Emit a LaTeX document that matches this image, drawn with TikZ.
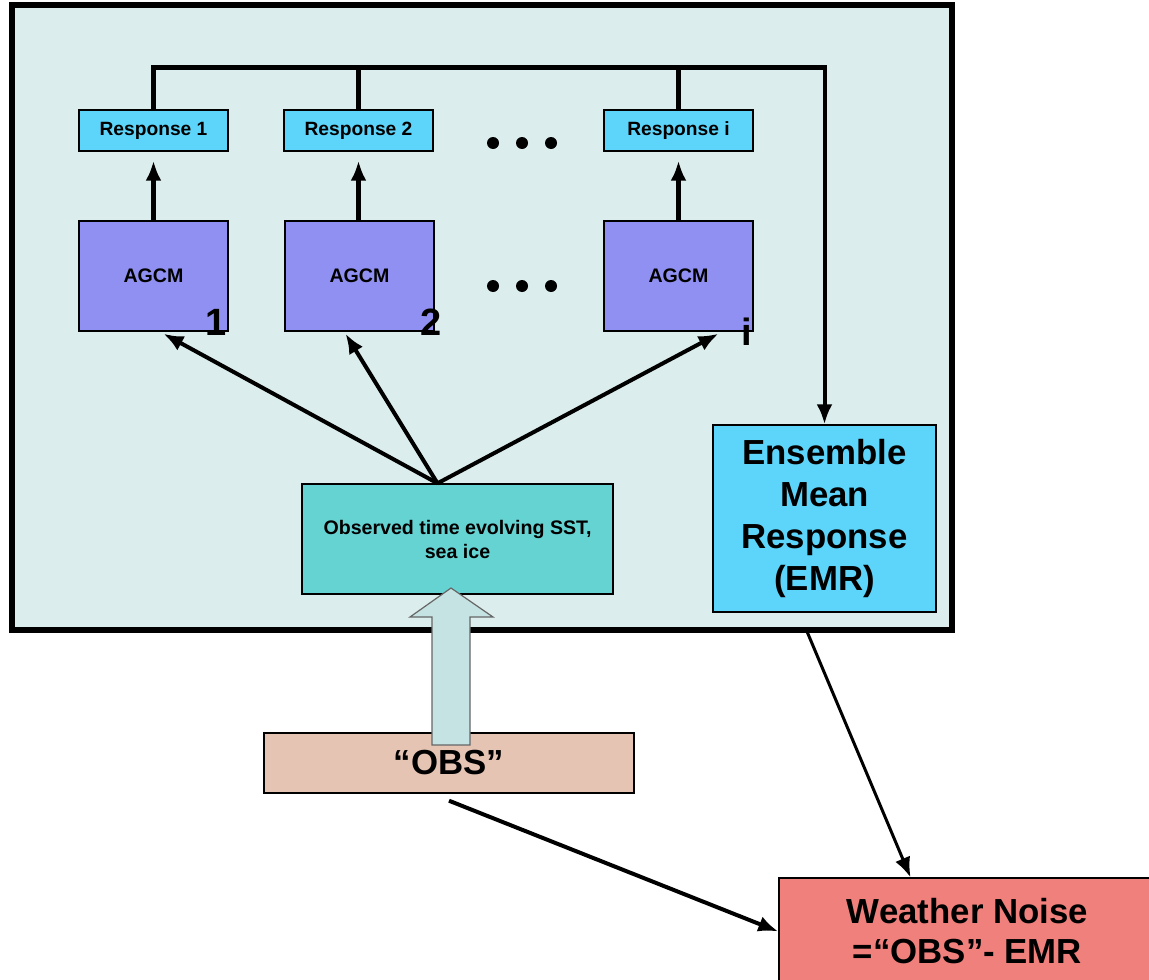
\documentclass[tikz,border=0pt]{standalone}
\usepackage{fontspec}
\setmainfont{Liberation Sans}
\usepackage{tikz}
\usetikzlibrary{arrows.meta,positioning}
\definecolor{framebg}{RGB}{219,237,236}
\definecolor{respcol}{RGB}{93,213,250}
\definecolor{agcmcol}{RGB}{143,144,242}
\definecolor{sstcol}{RGB}{102,211,211}
\definecolor{obscol}{RGB}{229,196,180}
\definecolor{noisecol}{RGB}{240,128,124}
\definecolor{bigarrow}{RGB}{197,227,227}

\begin{document}
\begin{tikzpicture}[x=0.5pt, y=-0.5pt,
  >={Latex[length=10pt,width=8pt]},
  every node/.style={inner sep=0pt, align=center},
  resp/.style={draw, line width=0.7pt, fill=respcol, minimum width=74.5pt,
    minimum height=20.5pt, font=\bfseries\fontsize{9.6}{11}\selectfont},
  agcm/.style={draw, line width=0.7pt, fill=agcmcol, minimum width=74.5pt,
    minimum height=55pt, font=\bfseries\fontsize{9.8}{11}\selectfont},
  num/.style={font=\bfseries\fontsize{19}{22}\selectfont},
  bigbox/.style={draw, line width=0.7pt, font=\bfseries\fontsize{17.4}{21}\selectfont},
  feed/.style={draw, ->, line width=2pt},
  bus/.style={draw, line width=2.5pt}
]
  \useasboundingbox (0,0) rectangle (1149,979);
  % model frame
  \draw[line width=2.8pt, fill=framebg] (12,5) rectangle (952,630);

  \node[resp] (resp1) at (153.5,130.5) {Response 1};
  \node[resp] (resp2) at (358.5,130.5) {Response 2};
  \node[resp] (respi) at (678.5,130.5) {Response i};
  \node[agcm] (agcm1) at (153.5,276) {AGCM};
  \node[agcm] (agcm2) at (359.5,276) {AGCM};
  \node[agcm] (agcmi) at (678.5,276) {AGCM};
  \node[num] (n1) at ([xshift=-6.5pt,yshift=4.5pt]agcm1.south east) {1};
  \node[num] (n2) at ([xshift=-2pt,yshift=4.5pt]agcm2.south east) {2};
  \node[num] (ni) at ([xshift=-3.5pt]agcmi.south east) {i};

  \foreach \x in {493,522,551} {
    \fill (\x,143) circle (3pt);
    \fill (\x,286) circle (3pt);
  }

  \node[draw, line width=0.7pt, fill=sstcol, minimum width=155.5pt, minimum height=55pt,
    font=\bfseries\fontsize{9.8}{12}\selectfont] (sst) at (457.5,539)
    {Observed time evolving SST,\\ sea ice};
  \node[bigbox, fill=respcol, minimum width=111.5pt, minimum height=93.5pt] (emr)
    at (824.5,518.5) {Ensemble\\Mean\\Response\\(EMR)};
  \node[bigbox, fill=obscol, minimum width=185pt, minimum height=30pt] (obs)
    at (449,763) {“OBS”};
  \node[bigbox, fill=noisecol, minimum width=188.5pt, minimum height=53.5pt,
    font=\bfseries\fontsize{17.4}{20}\selectfont] (noise) at (967.5,931.5)
    {Weather Noise\\=“OBS”- EMR};

  % responses to the ensemble mean
  \coordinate (top) at (0,68);
  \path[bus] (resp1.north) -- (resp1.north |- top) -- (emr.north |- top);
  \path[bus] (resp2.north) -- (resp2.north |- top);
  \path[bus] (respi.north) -- (respi.north |- top);
  \draw[->, line width=2pt] ([yshift=1.25pt]emr.north |- top) -- (emr.north);

  \path[feed, line width=2.6pt] (resp1.south |- agcm1.north) -- ([yshift=-4.5pt]resp1.south);
  \path[feed, line width=2.6pt] (resp2.south |- agcm2.north) -- ([yshift=-4.5pt]resp2.south);
  \path[feed, line width=2.6pt] (respi.south |- agcmi.north) -- ([yshift=-4.5pt]respi.south);

  % forcing
  \coordinate (src) at ([xshift=-10pt]sst.north);
  \path[feed] (src) -- ([xshift=5pt,yshift=-1pt]agcm1.south);
  \path[feed] (src) -- ([xshift=-7pt,yshift=-1pt]agcm2.south);
  \path[feed] (src) -- ([xshift=20pt,yshift=-1pt]agcmi.south);

  \filldraw[fill=bigarrow, draw=black!60, line width=0.6pt]
    (432,745) -- (432,617) -- (410,617) -- (451,588) -- (493,617) -- (470,617)
    -- (470,745) -- cycle;

  \path[feed] ([yshift=-3.5pt]obs.south) -- (noise.west);
  \path[feed, line width=1.5pt] ([xshift=-8.5pt,yshift=-10pt]emr.south)
    -- ([xshift=-28.5pt]noise.north);
\end{tikzpicture}
\end{document}
